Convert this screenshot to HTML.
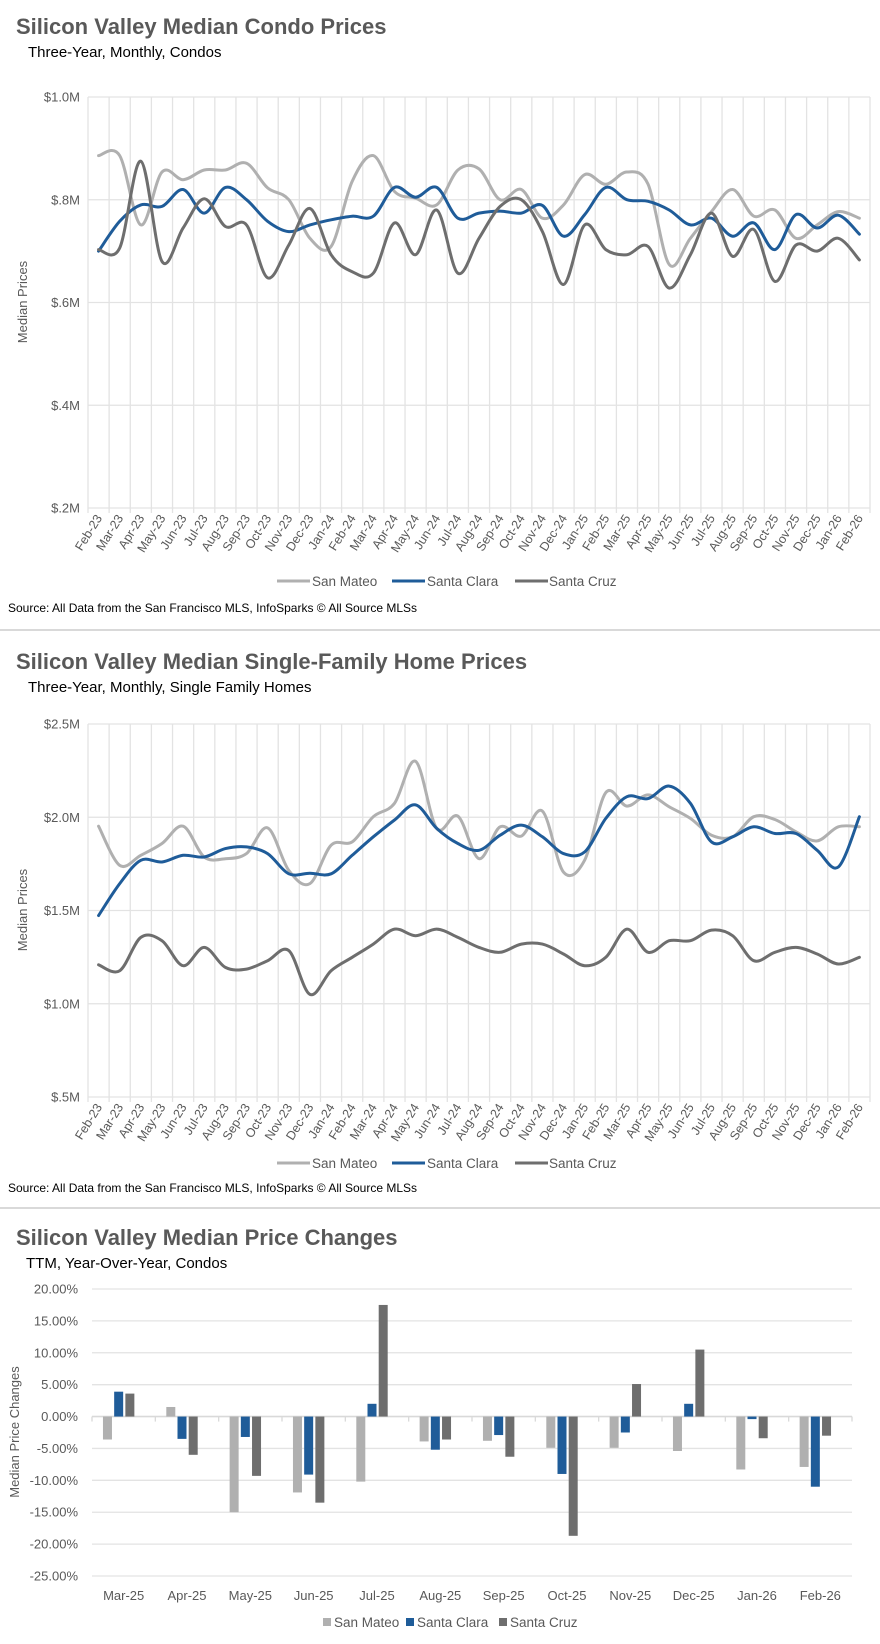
<!DOCTYPE html>
<html><head><meta charset="utf-8">
<style>
body{margin:0;background:#fff;width:880px;height:1644px;overflow:hidden;font-family:"Liberation Sans Narrow","Liberation Sans",sans-serif;}
svg{display:block}
</style></head>
<body>
<svg id="svg" width="880" height="1644" viewBox="0 0 880 1644" xmlns="http://www.w3.org/2000/svg" font-family="Liberation Sans Narrow, Liberation Sans, sans-serif">
<g id="c1">
<text x="16" y="34" font-family="Liberation Sans, sans-serif" font-size="22" font-weight="bold" fill="#595959">Silicon Valley Median Condo Prices</text>
<text x="28" y="57" font-size="15" fill="#000">Three-Year, Monthly, Condos</text>
<text transform="translate(27,302) rotate(-90)" text-anchor="middle" font-size="13" fill="#595959">Median Prices</text>
<g font-size="13.5" fill="#595959">
<line x1="277" y1="581" x2="310" y2="581" stroke="#b0b0b0" stroke-width="3"/><text x="312" y="586">San Mateo</text>
<line x1="392" y1="581" x2="425" y2="581" stroke="#1f5c99" stroke-width="3"/><text x="427" y="586">Santa Clara</text>
<line x1="515" y1="581" x2="548" y2="581" stroke="#6e6e6e" stroke-width="3"/><text x="549" y="586">Santa Cruz</text>
</g>
<text x="8" y="612" font-size="12" fill="#000">Source: All Data from the San Francisco MLS, InfoSparks © All Source MLSs</text>
</g>
<rect x="0" y="629" width="880" height="2" fill="#d9d9d9"/>
<g id="c2">
<text x="16" y="669" font-family="Liberation Sans, sans-serif" font-size="22" font-weight="bold" fill="#595959">Silicon Valley Median Single-Family Home Prices</text>
<text x="28" y="692" font-size="15" fill="#000">Three-Year, Monthly, Single Family Homes</text>
<text transform="translate(27,910) rotate(-90)" text-anchor="middle" font-size="13" fill="#595959">Median Prices</text>
<g font-size="13.5" fill="#595959">
<line x1="277" y1="1163" x2="310" y2="1163" stroke="#b0b0b0" stroke-width="3"/><text x="312" y="1168">San Mateo</text>
<line x1="392" y1="1163" x2="425" y2="1163" stroke="#1f5c99" stroke-width="3"/><text x="427" y="1168">Santa Clara</text>
<line x1="515" y1="1163" x2="548" y2="1163" stroke="#6e6e6e" stroke-width="3"/><text x="549" y="1168">Santa Cruz</text>
</g>
<text x="8" y="1192" font-size="12" fill="#000">Source: All Data from the San Francisco MLS, InfoSparks © All Source MLSs</text>
</g>
<rect x="0" y="1207" width="880" height="2" fill="#d9d9d9"/>
<g id="c3">
<text x="16" y="1245" font-family="Liberation Sans, sans-serif" font-size="22" font-weight="bold" fill="#595959">Silicon Valley Median Price Changes</text>
<text x="26" y="1268" font-size="15" fill="#000">TTM, Year-Over-Year, Condos</text>
<text transform="translate(19,1432) rotate(-90)" text-anchor="middle" font-size="13" fill="#595959">Median Price Changes</text>
<g font-size="13.5" fill="#595959">
<rect x="323" y="1618" width="8" height="8" fill="#b0b0b0"/><text x="334" y="1627">San Mateo</text>
<rect x="406" y="1618" width="8" height="8" fill="#1f5c99"/><text x="417" y="1627">Santa Clara</text>
<rect x="499" y="1618" width="8" height="8" fill="#6e6e6e"/><text x="510" y="1627">Santa Cruz</text>
</g>
</g>
</svg>
<script>
const months = ["Feb-23","Mar-23","Apr-23","May-23","Jun-23","Jul-23","Aug-23","Sep-23","Oct-23","Nov-23","Dec-23","Jan-24","Feb-24","Mar-24","Apr-24","May-24","Jun-24","Jul-24","Aug-24","Sep-24","Oct-24","Nov-24","Dec-24","Jan-25","Feb-25","Mar-25","Apr-25","May-25","Jun-25","Jul-25","Aug-25","Sep-25","Oct-25","Nov-25","Dec-25","Jan-26","Feb-26"];
const condoSanMateo = [0.886,0.886,0.751,0.854,0.839,0.858,0.858,0.871,0.823,0.80,0.725,0.709,0.836,0.886,0.816,0.803,0.79,0.858,0.86,0.80,0.82,0.764,0.79,0.849,0.83,0.854,0.83,0.674,0.725,0.777,0.82,0.768,0.78,0.725,0.751,0.777,0.764];
const condoSantaClara = [0.70,0.758,0.79,0.787,0.82,0.774,0.824,0.80,0.758,0.738,0.751,0.761,0.768,0.768,0.824,0.805,0.824,0.764,0.774,0.778,0.774,0.789,0.729,0.771,0.824,0.80,0.797,0.78,0.751,0.764,0.729,0.755,0.703,0.771,0.745,0.77,0.733];
const condoSantaCruz = [0.703,0.706,0.875,0.68,0.745,0.802,0.748,0.751,0.648,0.712,0.783,0.693,0.66,0.657,0.755,0.693,0.78,0.657,0.725,0.787,0.80,0.738,0.635,0.751,0.703,0.693,0.709,0.628,0.693,0.774,0.69,0.742,0.641,0.712,0.70,0.725,0.683];
const condoTicks = [0.2,0.4,0.6,0.8,1.0];
const condoTickLabels = ["$.2M","$.4M","$.6M","$.8M","$1.0M"];
const sfhSanMateo = [1.952,1.742,1.796,1.859,1.952,1.787,1.778,1.805,1.943,1.715,1.644,1.85,1.868,2.003,2.075,2.30,1.94,2.006,1.778,1.949,1.899,2.033,1.706,1.77,2.132,2.06,2.12,2.056,1.994,1.904,1.895,2.003,1.988,1.922,1.873,1.949,1.949];
const sfhSantaClara = [1.473,1.644,1.769,1.76,1.796,1.787,1.832,1.841,1.805,1.697,1.70,1.697,1.796,1.895,1.985,2.066,1.94,1.859,1.823,1.904,1.958,1.895,1.805,1.814,1.994,2.11,2.10,2.167,2.075,1.868,1.895,1.949,1.913,1.913,1.823,1.733,2.003];
const sfhSantaCruz = [1.209,1.177,1.356,1.338,1.204,1.302,1.195,1.186,1.231,1.285,1.05,1.177,1.249,1.32,1.40,1.365,1.40,1.356,1.302,1.276,1.32,1.32,1.267,1.204,1.249,1.40,1.276,1.338,1.338,1.395,1.365,1.231,1.276,1.302,1.267,1.213,1.249];
const sfhTicks = [0.5,1.0,1.5,2.0,2.5];
const sfhTickLabels = ["$.5M","$1.0M","$1.5M","$2.0M","$2.5M"];
const chgMonths = ["Mar-25","Apr-25","May-25","Jun-25","Jul-25","Aug-25","Sep-25","Oct-25","Nov-25","Dec-25","Jan-26","Feb-26"];
const chgSanMateo = [-3.6,1.5,-15.0,-11.9,-10.2,-3.9,-3.8,-4.9,-4.9,-5.4,-8.3,-7.9];
const chgSantaClara = [3.9,-3.5,-3.2,-9.1,2.0,-5.2,-2.9,-9.0,-2.5,2.0,-0.4,-11.0];
const chgSantaCruz = [3.6,-6.0,-9.3,-13.5,17.5,-3.6,-6.3,-18.7,5.1,10.5,-3.4,-3.0];
const chgTicks = [-25,-20,-15,-10,-5,0,5,10,15,20];

const NS="http://www.w3.org/2000/svg";
function mk(tag,attrs,parent){const e=document.createElementNS(NS,tag);for(const k in attrs)e.setAttribute(k,attrs[k]);parent.appendChild(e);return e;}
const COL=["#b0b0b0","#1f5c99","#6e6e6e"];
const NAMES=["san-mateo","santa-clara","santa-cruz"];

function smooth(pts){let d="M"+pts[0][0]+","+pts[0][1];
 for(let i=0;i<pts.length-1;i++){const p0=pts[i-1]||pts[i],p1=pts[i],p2=pts[i+1],p3=pts[i+2]||p2;
  const c1x=p1[0]+(p2[0]-p0[0])/6,c1y=p1[1]+(p2[1]-p0[1])/6,c2x=p2[0]-(p3[0]-p1[0])/6,c2y=p2[1]-(p3[1]-p1[1])/6;
  d+=" C"+c1x.toFixed(1)+","+c1y.toFixed(1)+" "+c2x.toFixed(1)+","+c2y.toFixed(1)+" "+p2[0].toFixed(1)+","+p2[1].toFixed(1);}
 return d;}

function lineChart(gid,prefix,series,ticks,tickLabels,top,bottom){
 const g=document.getElementById(gid);
 const L=88,R=870,n=months.length,bw=(R-L)/n;
 const vmin=ticks[0],vmax=ticks[ticks.length-1];
 const y=v=>bottom-(v-vmin)/(vmax-vmin)*(bottom-top);
 const x=i=>L+(i+0.5)*bw;
 ticks.forEach((t,i)=>{
  const gl=mk("line",{x1:L,x2:R,y1:y(t),y2:y(t),stroke:"#e3e3e3","stroke-width":1.3},g);
  
  
  const tl=mk("text",{x:L-8,y:y(t)+4.5,"text-anchor":"end","font-size":13,fill:"#595959"},g);
  
  
  tl.textContent=tickLabels[i];
 });
 for(let i=0;i<=n;i++){
  const vl=mk("line",{x1:L+i*bw,x2:L+i*bw,y1:top,y2:bottom+5,stroke:"#e3e3e3","stroke-width":1.3},g);
  
  
 }
 months.forEach((m,i)=>{
  const t=mk("text",{transform:"translate("+(x(i)+4)+","+(bottom+10)+") rotate(-58)","text-anchor":"end","font-size":12.5,fill:"#595959"},g);
  
  
  t.textContent=m;
 });
 series.forEach((s,k)=>{
  const p=mk("path",{d:smooth(s.map((v,i)=>[x(i),y(v)])),fill:"none",stroke:COL[k],"stroke-width":3,"stroke-linejoin":"round","stroke-linecap":"round"},g);
  
  
 });
}
lineChart("c1","condo",[condoSanMateo,condoSantaClara,condoSantaCruz],condoTicks,condoTickLabels,97,508);
lineChart("c2","sfh",[sfhSanMateo,sfhSantaClara,sfhSantaCruz],sfhTicks,sfhTickLabels,724,1097);

(function(){
 const g=document.getElementById("c3");
 const L=92,R=852,top=1289,bottom=1576,n=chgMonths.length,bw=(R-L)/n;
 const y=v=>bottom-(v+25)/45*(bottom-top);
 chgTicks.forEach(t=>{
  const gl=mk("line",{x1:L,x2:R,y1:y(t),y2:y(t),stroke:"#e3e3e3","stroke-width":1.3},g);
  
  
  const tl=mk("text",{x:L-14,y:y(t)+4.5,"text-anchor":"end","font-size":13,fill:"#595959"},g);
  
  
  tl.textContent=t.toFixed(2)+"%";
 });
 const z=mk("line",{x1:L,x2:R,y1:y(0),y2:y(0),stroke:"#d9d9d9","stroke-width":1.5},g);
 
 
 for(let i=0;i<=n;i++){
  const tk=mk("line",{x1:L+i*bw,x2:L+i*bw,y1:y(0),y2:y(0)+5,stroke:"#d9d9d9","stroke-width":1.3},g);
  
  
 }
 const series=[chgSanMateo,chgSantaClara,chgSantaCruz];
 const barW=9,gap=2.2;
 chgMonths.forEach((m,i)=>{
  const c=L+(i+0.5)*bw-5;
  const t=mk("text",{x:L+(i+0.5)*bw,y:1600,"text-anchor":"middle","font-size":13,fill:"#595959"},g);
  
  
  t.textContent=m;
  series.forEach((s,k)=>{
   const v=s[i],x0=c+(k-1)*(barW+gap)-barW/2;
   const y0=Math.min(y(v),y(0)),h=Math.abs(y(v)-y(0));
   const b=mk("rect",{x:x0,y:y0,width:barW,height:h,fill:COL[k]},g);
   
   
  });
 });
})();
</script>
</body></html>
